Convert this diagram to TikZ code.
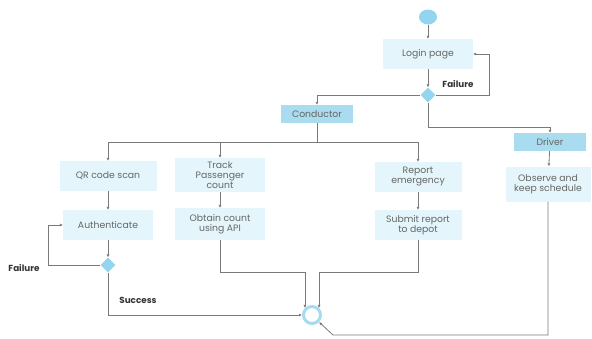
\documentclass[tikz,border=0pt]{standalone}
\usepackage{fontspec}
\setmainfont{Poppins}
\usepackage{tikz}
\usetikzlibrary{arrows.meta}
\usetikzlibrary{shapes.geometric}

\definecolor{boxcyan}{HTML}{E4F6FB}
\definecolor{rolecyan}{HTML}{A9DCEE}
\definecolor{choicecyan}{HTML}{93D4EE}
\definecolor{ringcyan}{HTML}{A6DAEE}
\definecolor{linegray}{HTML}{7A7A7A}
\definecolor{txtgray}{HTML}{666666}

\begin{document}
\begin{tikzpicture}[x=1pt,y=-1pt,
    >={Latex[length=3pt,width=3pt]},
    every node/.style={font=\fontsize{9.3}{10}\selectfont,text=txtgray},
    actbox/.style={fill=boxcyan,minimum width=90pt,minimum height=30pt,align=center,inner sep=1pt},
    rolebox/.style={fill=rolecyan,minimum width=72pt,minimum height=18pt,inner sep=1pt},
    choice/.style={diamond,fill=choicecyan,minimum size=15pt,inner sep=0pt},
    flow/.style={draw=linegray,line width=0.8pt,->},
    plain/.style={draw=linegray,line width=0.8pt},
    guard/.style={font=\fontsize{8.8}{10}\selectfont\bfseries,text=black!80}
]
\useasboundingbox (0,0) rectangle (592,338);

%------------------------ 登录 ------------------------
\node[ellipse,fill=choicecyan,minimum width=18pt,minimum height=15pt,inner sep=0pt] (start) at (428,17) {};
\node[actbox] (login) at (428,54) {Login page};
\node[choice] (logchk) at (428,95) {};

%------------------------ 角色 ------------------------
\node[rolebox] (cond) at (317,114) {Conductor};
\node[rolebox] (drv) at (550,142) {Driver};
\node[actbox,minimum width=85pt,minimum height=35pt] (obs) at (548,184) {Observe and\\keep schedule};

%------------------------ 售票员分支 ------------------------
\node[actbox,minimum width=97pt] (qr) at (108,176) {QR code scan};
\node[actbox] (auth) at (108,225) {Authenticate};
\node[choice] (authchk) at (108,265) {};
\node[actbox,minimum height=34pt] (track) at (220,175) {Track\\Passenger\\count};
\node[actbox,minimum height=32pt] (obtain) at (220,224) {Obtain count\\using API};
\node[actbox,minimum width=87pt] (report) at (418,177) {Report\\emergency};
\node[actbox,minimum width=87pt] (submit) at (418,225) {Submit report\\to depot};

% 汇合点
\node[circle,draw=ringcyan,line width=3pt,minimum size=17pt,inner sep=0pt] (merge) at (312,315) {};

%------------------------ 连接线 ------------------------
\coordinate (bar) at (317,142);
\coordinate (joinL) at (0,272);
\coordinate (low) at (0,335);
\coordinate (bend) at (333,335);

\draw[flow] (start) -- (login);
\draw[flow] (login) -- (logchk);
\draw[flow] (logchk.east) -- ++(54,0) |- (login.east);
\node[guard] at (458,84) {Failure};
\draw[flow] (logchk.west) -| (cond.north);
\draw[flow] (logchk.south) -- ++(0,25) -| (drv.north);
\draw[flow] (drv) -- (obs);

% 分叉
\draw[plain] (cond.south) -- (bar);
\draw[plain] (qr.north |- bar) -- (report.north |- bar);
\draw[flow] (qr.north |- bar) -- (qr.north);
\draw[flow] (track.north |- bar) -- (track.north);
\draw[flow] (report.north |- bar) -- (report.north);

\draw[flow] (qr) -- (auth);
\draw[flow] (auth) -- (authchk);
\draw[flow] (authchk.west) -- ++(-52,0) |- (auth.west);
\node[guard] at (24,268) {Failure};
\draw[flow] (authchk.south) |- (merge.west);
\node[guard] at (138,300) {Success};

\draw[flow] (track) -- (obtain);
\draw[flow] (report) -- (submit);
\draw[flow] (obtain.south) |- (merge.135 |- joinL) -- (merge.135);
\draw[flow] (submit.south) |- (merge.45 |- joinL) -- (merge.45);
\draw[flow] (obs.south) -- (obs.south |- low) -- (bend) -- (merge.south east);

\end{tikzpicture}
\end{document}
